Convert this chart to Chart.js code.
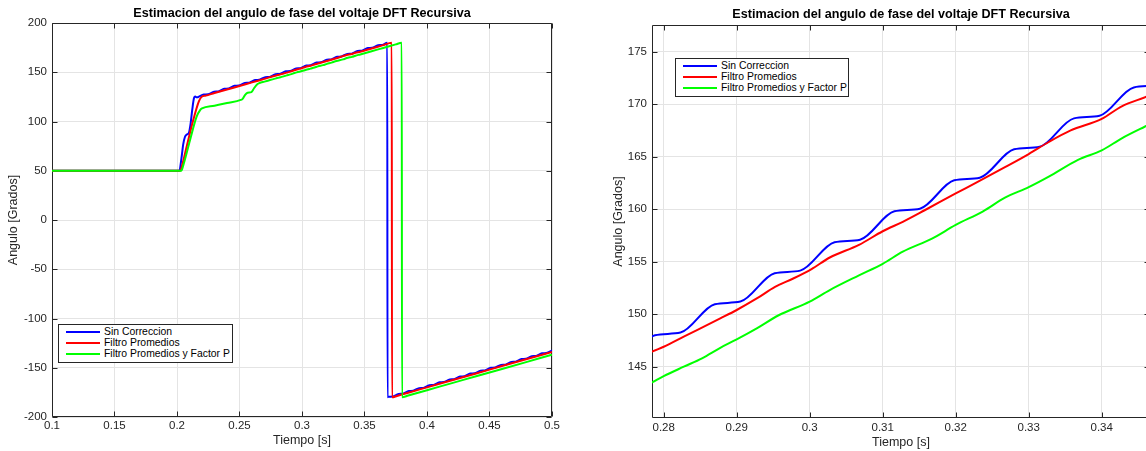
<!DOCTYPE html>
<html><head><meta charset="utf-8">
<script src="https://cdn.jsdelivr.net/npm/chart.js@4.4.0/dist/chart.umd.min.js"></script>
<style>
html,body{margin:0;padding:0;width:1146px;height:451px;overflow:hidden;background:#fff;}
.wrap{position:absolute;top:0;height:451px;}
.legend{position:absolute;background:#fff;border:1px solid #262626;box-sizing:border-box;font-family:'Liberation Sans',Arial,Helvetica,sans-serif;font-size:10.4px;color:#000;}
.legend .ln{position:absolute;height:2px;}
.legend .tx{position:absolute;line-height:12px;white-space:nowrap;}
</style></head><body>
<div class="wrap" style="left:0;width:573px"><canvas id="c1" width="573" height="451"></canvas></div>
<div class="wrap" style="left:573px;width:578px"><canvas id="c2" width="578" height="451"></canvas></div>
<div id="lg1" class="legend" style="left:58px;top:324px;width:175px;height:39px"></div>
<div id="lg2" class="legend" style="left:675px;top:58px;width:174px;height:39px"></div>
<script>
// ---- data (Tiempo [s], Angulo [Grados]) ----
const seriesNames = ['Sin Correccion', 'Filtro Promedios', 'Filtro Promedios y Factor P'];
const seriesColors = ['#0000ff', '#ff0000', '#00ff00'];

const tSin = [0.1000, 0.2019, 0.2035, 0.2050, 0.2064, 0.2078, 0.2095, 0.2108, 0.2122, 0.2136, 0.2146, 0.2158, 0.2167,
  0.2214, 0.2249, 0.2296, 0.2331, 0.2378, 0.2413, 0.2460, 0.2495, 0.2542, 0.2577, 0.2624, 0.2659, 0.2706, 0.2741,
  0.2788, 0.2823, 0.2870, 0.2905, 0.2952, 0.2987, 0.3034, 0.3069, 0.3116, 0.3151, 0.3198, 0.3233, 0.3280, 0.3315,
  0.3362, 0.3397, 0.3444, 0.3479, 0.3526, 0.3561, 0.3608, 0.3643, 0.3682, 0.3684,
  0.3690, 0.3725, 0.3772, 0.3807, 0.3854, 0.3889, 0.3936, 0.3971, 0.4018, 0.4053, 0.4100, 0.4135, 0.4182, 0.4217,
  0.4264, 0.4299, 0.4346, 0.4381, 0.4428, 0.4463, 0.4510, 0.4545, 0.4592, 0.4627, 0.4674, 0.4709, 0.4756, 0.4791,
  0.4838, 0.4873, 0.4920, 0.4955, 0.5002];
const vSin = [50.0, 50.0, 62.0, 77.0, 84.5, 86.8, 88.5, 97.0, 112.0, 123.8, 125.3, 124.5, 124.7,
  127.35, 127.6, 130.3, 130.55, 133.25, 133.5, 136.2, 136.45, 139.15, 139.4, 142.1, 142.35, 145.05, 145.3,
  148.0, 148.25, 150.95, 151.2, 153.9, 154.15, 156.85, 157.1, 159.8, 160.05, 162.75, 163.0, 165.7, 165.95,
  168.65, 168.9, 171.6, 171.85, 174.55, 174.8, 177.5, 177.75, 180.0, -180.0,
  -179.55, -179.3, -176.6, -176.35, -173.65, -173.4, -170.7, -170.45, -167.75, -167.5, -164.8, -164.55, -161.85, -161.6,
  -158.9, -158.65, -155.95, -155.7, -153.0, -152.75, -150.05, -149.8, -147.1, -146.85, -144.15, -143.9, -141.2, -140.95,
  -138.25, -138.0, -135.3, -135.05, -132.35];

const tFil = [0.1000, 0.2026, 0.2040, 0.2077, 0.2130, 0.2175, 0.2197, 0.2230, 0.2300, 0.2400, 0.2500, 0.2600, 0.2700,
  0.2784, 0.2800, 0.28275, 0.28775, 0.2900, 0.29275, 0.29525, 0.29775, 0.30025, 0.30275, 0.30675, 0.3100, 0.31275, 0.31575,
  0.3200, 0.32275, 0.32675, 0.3300, 0.33275, 0.33575, 0.3400, 0.34275, 0.3466,
  0.3550, 0.3650, 0.3718, 0.3720, 0.3760, 0.3850, 0.4000, 0.4200, 0.4400, 0.4600, 0.4800, 0.5000];
const vFil = [50.0, 50.0, 55.0, 74.4, 101.5, 120.5, 125.0, 126.3, 128.9, 132.5, 136.0, 139.7, 143.3,
  146.43, 146.9, 147.86, 149.6, 150.4, 151.5, 152.6, 153.4, 154.3, 155.4, 156.6, 157.9, 158.8, 159.9,
  161.5, 162.5, 164.0, 165.25, 166.4, 167.5, 168.6, 169.8, 170.85,
  173.9, 177.5, 180.0, -180.0, -178.6, -175.3, -169.9, -162.7, -155.5, -148.3, -141.1, -133.9];

const tFac = [0.1000, 0.2034, 0.2050, 0.2104, 0.2157, 0.2185, 0.2200, 0.2300, 0.2400, 0.2510, 0.2525, 0.2545, 0.2565, 0.2595, 0.2615, 0.2640, 0.2660, 0.2700, 0.2750,
  0.2784, 0.2800, 0.28275, 0.28525, 0.28775, 0.2900, 0.29275, 0.29575, 0.3000, 0.30275, 0.30675, 0.3100, 0.31275, 0.31675,
  0.3200, 0.32375, 0.32675, 0.3300, 0.33275, 0.33675, 0.3400, 0.34275, 0.3466,
  0.3550, 0.3650, 0.3750, 0.3798, 0.3800, 0.3850, 0.4000, 0.4200, 0.4400, 0.4600, 0.4800, 0.5000];
const vFac = [50.0, 50.0, 55.5, 81.0, 104.9, 111.5, 113.2, 116.0, 118.8, 121.9, 123.0, 127.0, 129.2, 129.8, 133.5, 137.6, 139.1, 140.5, 142.3,
  143.5, 144.1, 145.0, 145.8, 146.8, 147.6, 148.65, 149.9, 151.2, 152.3, 153.7, 154.8, 155.95, 157.2,
  158.5, 159.8, 161.1, 162.1, 163.1, 164.7, 165.6, 166.75, 168.1,
  171.1, 174.7, 178.3, 180.0, -180.0, -178.2, -172.8, -165.6, -158.4, -151.2, -144.0, -136.8];

// ---- ticks ----
const xTicksLeft = [0.1, 0.15, 0.2, 0.25, 0.3, 0.35, 0.4, 0.45, 0.5];
const xLabelsLeft = ['0.1', '0.15', '0.2', '0.25', '0.3', '0.35', '0.4', '0.45', '0.5'];
const yTicksLeft = [-200, -150, -100, -50, 0, 50, 100, 150, 200];
const yLabelsLeft = ['-200', '-150', '-100', '-50', '0', '50', '100', '150', '200'];
const xTicksRight = [0.28, 0.29, 0.30, 0.31, 0.32, 0.33, 0.34];
const xLabelsRight = ['0.28', '0.29', '0.3', '0.31', '0.32', '0.33', '0.34'];
const yTicksRight = [145, 150, 155, 160, 165, 170, 175];
const yLabelsRight = ['145', '150', '155', '160', '165', '170', '175'];

const titleText = 'Estimacion del angulo de fase del voltaje DFT Recursiva';
const xTitle = 'Tiempo [s]';
const yTitle = 'Angulo [Grados]';

// ---- rendering ----
const FAM = "'Liberation Sans', Arial, Helvetica, sans-serif";
const AX = '#262626';
const GRID = '#e4e4e4';
Chart.defaults.font.family = FAM;

function pts(t, v) { return t.map((x, i) => ({ x: x, y: v[i] })); }
function datasets() {
  const src = [[tSin, vSin], [tFil, vFil], [tFac, vFac]];
  return src.map((s, i) => ({
    label: seriesNames[i], data: pts(s[0], s[1]), borderColor: seriesColors[i],
    backgroundColor: seriesColors[i], borderWidth: 2, pointRadius: 0, fill: false,
    cubicInterpolationMode: 'monotone', order: 3 - i, borderJoinStyle: 'round'
  }));
}

const frame = {
  id: 'frame',
  beforeDatasetsDraw(chart, args, o) {
    const { ctx, chartArea: a, scales: { x, y } } = chart;
    ctx.save();
    ctx.strokeStyle = AX; ctx.lineWidth = 1;
    const L = Math.round(a.left) + 0.5, R = Math.round(a.right) - 0.5;
    const T = Math.round(a.top) + 0.5, B = Math.round(a.bottom) - 0.5;
    ctx.beginPath();
    ctx.rect(L, T, R - L, B - T);
    o.xt.forEach(v => {
      const p = Math.round(x.getPixelForValue(v)) + 0.5;
      ctx.moveTo(p, B); ctx.lineTo(p, B - 5);
      ctx.moveTo(p, T); ctx.lineTo(p, T + 5);
    });
    o.yt.forEach(v => {
      const p = Math.round(y.getPixelForValue(v)) + 0.5;
      ctx.moveTo(L, p); ctx.lineTo(L + 5, p);
      ctx.moveTo(R, p); ctx.lineTo(R - 5, p);
    });
    ctx.stroke();
    ctx.restore();
  }
};

function makeChart(id, c) {
  return new Chart(document.getElementById(id), {
    type: 'line',
    data: { datasets: datasets() },
    plugins: [frame],
    options: {
      responsive: false, animation: false, devicePixelRatio: 1,
      layout: { padding: { left: 0, right: c.padRight, top: 0, bottom: 0 } },
      plugins: {
        legend: { display: false }, tooltip: { enabled: false },
        title: { display: true, text: titleText, color: '#000', fullSize: false,
          font: { family: FAM, size: 12.6, weight: 'bold', lineHeight: '15px' },
          padding: { top: c.titleTop, bottom: c.titleBottom } },
        frame: { xt: c.xt, yt: c.yt }
      },
      scales: {
        x: {
          type: 'linear', min: c.xmin, max: c.xmax,
          afterBuildTicks: s => { s.ticks = c.xt.map(v => ({ value: v })); },
          afterFit: s => { s.height = c.xH; },
          ticks: { callback: (v, i) => c.xl[i], color: AX, padding: c.xPad, maxRotation: 0, autoSkip: false,
            font: { family: FAM, size: 11.5, lineHeight: '13px' } },
          grid: { color: GRID, drawTicks: false, lineWidth: 1 },
          border: { display: false },
          title: { display: true, text: xTitle, color: AX,
            font: { family: FAM, size: 12.5, lineHeight: '15px' }, padding: { top: 0, bottom: c.xTitlePad } }
        },
        y: {
          type: 'linear', min: c.ymin, max: c.ymax,
          afterBuildTicks: s => { s.ticks = c.yt.map(v => ({ value: v })); },
          afterFit: s => { s.width = c.yW; },
          ticks: { callback: (v, i) => c.yl[i], color: AX, padding: 5, autoSkip: false,
            font: { family: FAM, size: 11.5, lineHeight: '13px' } },
          grid: { color: GRID, drawTicks: false, lineWidth: 1 },
          border: { display: false },
          title: { display: true, text: yTitle, color: AX,
            font: { family: FAM, size: 12.5, lineHeight: '15px' }, padding: { top: c.yTitlePad, bottom: 0 } }
        }
      }
    }
  });
}

makeChart('c1', {
  xmin: 0.1, xmax: 0.5, ymin: -200, ymax: 200,
  xt: xTicksLeft, xl: xLabelsLeft, yt: yTicksLeft, yl: yLabelsLeft,
  padRight: 21, titleTop: 6.5, titleBottom: 1.5, xH: 34, yW: 52,
  xPad: 2.5, xTitlePad: 2.8, yTitlePad: 6
});
makeChart('c2', {
  xmin: 0.278397, xmax: 0.346616, ymin: 140.114, ymax: 177.543,
  xt: xTicksRight, xl: xLabelsRight, yt: yTicksRight, yl: yLabelsRight,
  padRight: 1, titleTop: 7.5, titleBottom: 2.5, xH: 33, yW: 79,
  xPad: 3.5, xTitlePad: 1.2, yTitlePad: 38.1
});

function legend(id) {
  const el = document.getElementById(id);
  const rows = [7.6, 18.9, 30.2];
  seriesNames.forEach((n, i) => {
    const ln = document.createElement('div');
    ln.className = 'ln';
    ln.style.cssText = 'left:7px;width:34px;top:' + (rows[i] - 2) + 'px;background:' + seriesColors[i];
    el.appendChild(ln);
    const tx = document.createElement('div');
    tx.className = 'tx';
    tx.style.cssText = 'left:45px;top:' + (rows[i] - 7) + 'px';
    tx.textContent = n;
    el.appendChild(tx);
  });
}
legend('lg1');
legend('lg2');
</script>
</body></html>
